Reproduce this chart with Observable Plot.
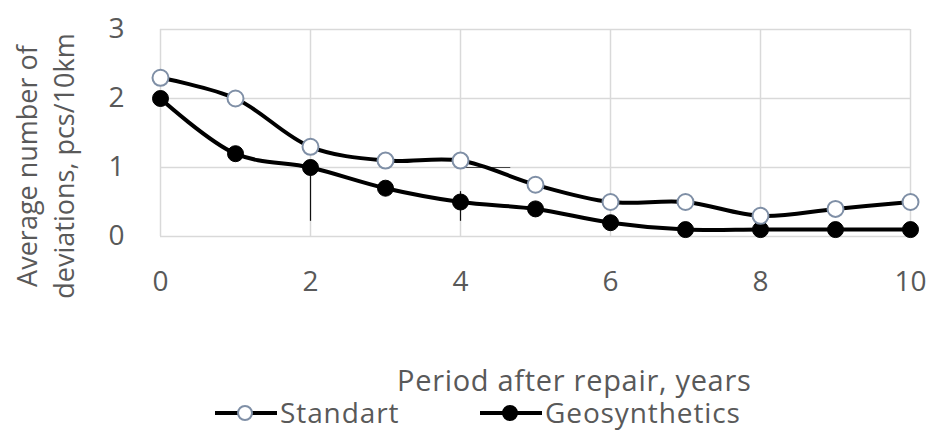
<!DOCTYPE html>
<html><head><meta charset="utf-8">
<script src="https://cdn.jsdelivr.net/npm/d3@7"></script>
<script src="https://cdn.jsdelivr.net/npm/@observablehq/plot@0.6"></script>
<style>
body{margin:0;background:#fff;font-family:"Open Sans",sans-serif;}
#wrap{position:relative;width:931px;height:431px;overflow:hidden;}
.t{position:absolute;white-space:nowrap;color:#595959;font-size:29px;line-height:29px;letter-spacing:0.7px;}
.leg{position:absolute;display:flex;align-items:center;color:#595959;font-size:28px;line-height:28px;white-space:nowrap;letter-spacing:0.9px;}
.leg svg{margin-right:1px;}
</style></head><body><div id="wrap"></div>
<script>
const years = [0,1,2,3,4,5,6,7,8,9,10];
const standart = [2.3,2.0,1.3,1.1,1.1,0.75,0.5,0.5,0.3,0.4,0.5];
const geosynthetics = [2.0,1.2,1.0,0.7,0.5,0.4,0.2,0.1,0.1,0.1,0.1];
const xTicks = [0,2,4,6,8,10];
const yTicks = [0,1,2,3];
const errX = [2,4];
const errLow = [0.22,0.22];
const errHigh = [1.0,0.65];
const stubY = [1];
const stubX1 = [4];
const stubX2 = [4.67];
const seriesNames = ["Standart","Geosynthetics"];
const yLabel = "Average number of\ndeviations, pcs/10km";
const xLabel = "Period after repair, years";

const sData = years.map((x,i)=>({x, y: standart[i]}));
const gData = years.map((x,i)=>({x, y: geosynthetics[i]}));
const errData = errX.map((x,i)=>({x, y1: errLow[i], y2: errHigh[i]}));
const stubData = stubY.map((y,i)=>({y, x1: stubX1[i], x2: stubX2[i]}));

const grey = "#595959";
const ringColor = "#7f8fa6";

const chart = Plot.plot({
  width: 931, height: 431,
  marginLeft: 160, marginRight: 21, marginTop: 29, marginBottom: 195,
  style: {fontFamily: '"Open Sans", sans-serif', background: "#fff", overflow: "visible"},
  x: {domain: [0,10]},
  y: {domain: [0,3]},
  marks: [
    Plot.gridX(xTicks, {stroke: "#d9d9d9", strokeOpacity: 1, strokeWidth: 1.5}),
    Plot.gridY(yTicks, {stroke: "#d9d9d9", strokeOpacity: 1, strokeWidth: 1.5}),
    Plot.axisX(xTicks, {tickSize: 0, tickPadding: 35, fontSize: 28, color: grey, label: null, tickFormat: d3.format("d")}),
    Plot.axisY(yTicks, {tickSize: 0, tickPadding: 36, fontSize: 28, color: grey, label: null, tickFormat: d3.format("d")}),
    Plot.text([yLabel], {frameAnchor: "left", textAnchor: "middle", lineAnchor: "middle", rotate: -90, dx: -117, dy: 33, fontSize: 27, fill: grey, lineHeight: 1.37}),
    Plot.ruleX(errData, {x: "x", y1: "y1", y2: "y2", stroke: "#111", strokeWidth: 1.2}),
    Plot.ruleY(stubData, {y: "y", x1: "x1", x2: "x2", stroke: "#444", strokeWidth: 1.2}),
    Plot.line(gData, {x: "x", y: "y", curve: "catmull-rom", stroke: "#000", strokeWidth: 4}),
    Plot.line(sData, {x: "x", y: "y", curve: "catmull-rom", stroke: "#000", strokeWidth: 4}),
    Plot.dot(gData, {x: "x", y: "y", r: 8, fill: "#000", stroke: "#000", strokeWidth: 1}),
    Plot.dot(sData, {x: "x", y: "y", r: 8, fill: "#fff", stroke: ringColor, strokeWidth: 2})
  ]
});
const wrap = document.getElementById("wrap");
wrap.appendChild(chart);

const title = document.createElement("div");
title.className = "t";
title.textContent = xLabel;
title.style.left = "397px";
title.style.top = "365px";
wrap.appendChild(title);

function legendItem(name, left, filled){
  const d = document.createElement("div");
  d.className = "leg";
  d.style.left = left + "px";
  d.style.top = "398px";
  const ns = "http://www.w3.org/2000/svg";
  const svg = document.createElementNS(ns, "svg");
  svg.setAttribute("width", 66); svg.setAttribute("height", 24);
  const ln = document.createElementNS(ns, "line");
  ln.setAttribute("x1", 2); ln.setAttribute("x2", 64); ln.setAttribute("y1", 13); ln.setAttribute("y2", 13);
  ln.setAttribute("stroke", "#000"); ln.setAttribute("stroke-width", 4);
  const c = document.createElementNS(ns, "circle");
  c.setAttribute("cx", 32); c.setAttribute("cy", 13); c.setAttribute("r", 7);
  c.setAttribute("fill", filled ? "#000" : "#fff");
  c.setAttribute("stroke", filled ? "#000" : ringColor);
  c.setAttribute("stroke-width", 2);
  svg.appendChild(ln); svg.appendChild(c);
  d.appendChild(svg);
  const s = document.createElement("span");
  s.textContent = name;
  d.appendChild(s);
  wrap.appendChild(d);
}
legendItem(seriesNames[0], 213, false);
legendItem(seriesNames[1], 478, true);
</script>
</body></html>
